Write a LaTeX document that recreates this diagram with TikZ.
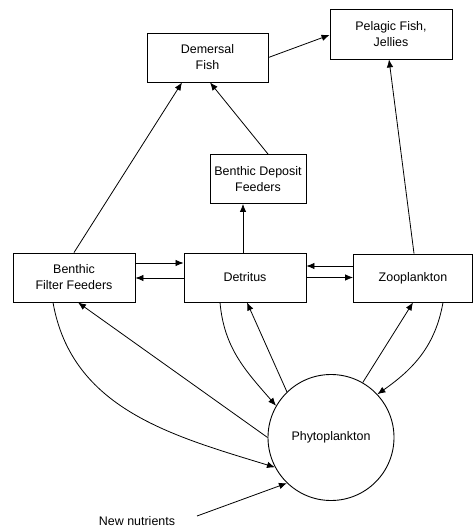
\documentclass[tikz,border=0pt]{standalone}
\usepackage{fontspec}
\setmainfont{Liberation Sans}
\usetikzlibrary{arrows.meta,calc}
\begin{document}
\begin{tikzpicture}[x=1bp,y=-1bp,
  box/.style={draw,line width=0.9bp,rectangle,align=center,inner sep=0pt,
    font=\fontsize{12.5}{16}\selectfont},
  arr/.style={line width=0.8bp,-{Latex[length=8bp,width=6.5bp]}},
  every node/.style={font=\fontsize{12.5}{16}\selectfont}]
\useasboundingbox (0,0) rectangle (473,528);
\node[box,minimum width=121bp,minimum height=49bp] (dem) at (207.5,57.5) {Demersal\\Fish};
\node[box,minimum width=122bp,minimum height=50bp] (pel) at (391,34) {Pelagic Fish,\\Jellies};
\node[box,minimum width=96bp,minimum height=49bp] (bdf) at (258,179) {Benthic Deposit\\Feeders};
\node[box,minimum width=122bp,minimum height=49bp] (bff) at (74,277.5) {Benthic\\Filter Feeders};
\node[box,minimum width=122bp,minimum height=49bp] (det) at (245,277.5) {Detritus};
\node[box,minimum width=119bp,minimum height=48bp] (zoo) at (413,278) {Zooplankton};
\node[draw,circle,line width=0.9bp,minimum size=126bp,inner sep=0pt] (phy) at (331,437.5) {Phytoplankton};
\node (nut) at (137,521) {New nutrients};
\coordinate (nutend) at (197,516);

\draw[arr] (bff.north) -- ([xshift=-25.5bp]dem.south);
\draw[arr] ([xshift=10bp]bdf.north) -- ([xshift=2.5bp]dem.south);
\draw[arr] (dem.east) -- ([yshift=-1bp]pel.west);
\draw[arr] ([xshift=-2bp]det.north) -- ([xshift=-2bp]det.north |- bdf.south);
\draw[arr] ([xshift=1bp]zoo.north) -- ([xshift=-2bp]pel.south);

\draw[arr] ([yshift=14.5bp]bff.east) -- ([yshift=14.5bp]det.west);
\draw[arr] ([yshift=-0.5bp]det.west) -- ([yshift=-0.5bp]bff.east);
\draw[arr] ([yshift=12bp]zoo.west) -- ([yshift=12bp]zoo.west -| det.east);
\draw[arr] (det.east) -- (det.east -| zoo.west);

\draw[arr] ([xshift=-21bp]bff.south) to[out=-80,in=163] (phy.208);
\draw[arr] (phy.180) -- ([xshift=4bp]bff.south);
\draw[arr] ([xshift=-25bp]det.south) to[out=-85,in=131] (phy.150);
\draw[arr] (phy.134) -- ([xshift=2bp]det.south);
\draw[arr] (phy.60) -- (zoo.south);
\draw[arr] ([xshift=30bp]zoo.south) to[out=-100,in=35] (phy.43);
\draw[arr] (nutend) -- (phy.226);
\end{tikzpicture}
\end{document}
